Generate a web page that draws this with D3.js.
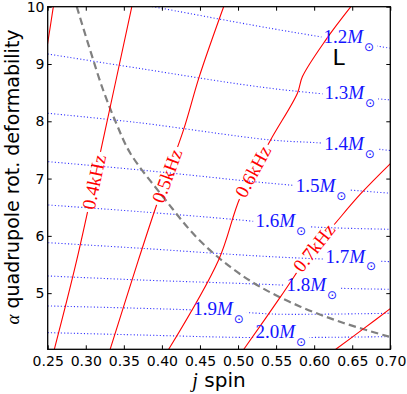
<!DOCTYPE html>
<html><head><meta charset="utf-8">
<script src="https://cdn.jsdelivr.net/npm/d3@7"></script>
<style>body{margin:0;background:#fff}svg{display:block}</style>
</head><body>
<svg id="c" width="407" height="394"></svg>
<script>
// ---------------- data ----------------
const xTicks = [0.25,0.30,0.35,0.40,0.45,0.50,0.55,0.60,0.65,0.70];
const yTicks = [5,6,7,8,9,10];

// frequency contours (red), [j, alpha]
const f03 = [[0.2440,8.90],[0.2500,9.366],[0.2574,10.0]];
const f04 = [[0.2587,4.02],[0.2882,5.58],[0.3241,7.76],[0.3605,10.0]];
const f05 = [[0.3320,4.02],[0.3692,5.58],[0.3938,6.57],[0.4284,7.85],[0.4491,8.78],[0.4811,10.0]];
const f06 = [[0.4089,4.02],[0.4745,5.58],[0.5030,6.68],[0.5426,7.67],[0.5780,8.49],[0.5846,8.78],[0.6153,9.42],[0.6482,10.0]];
const f07 = [[0.5076,4.02],[0.5557,4.934],[0.5997,5.789],[0.6241,6.163],[0.6609,6.731],[0.7008,7.270]];
const f08 = [[0.6284,4.02],[0.6650,4.38],[0.7004,4.734]];
const freqCurves = [f03,f04,f05,f06,f07,f08];
const freqLabels = ["","0.4kHz","0.5kHz","0.6kHz","0.7kHz",""];
const freqLabelJ = [null,0.309,0.4077,0.5201,0.5997,null];
const freqLabelA = [null,6.949,7.046,7.115,5.789,null];

// mass contours (blue dotted), [j, alpha]
const m12 = [[0.3700,10.046],[0.3886,10.0],[0.5424,9.623],[0.7008,9.274]];
const m13 = [[0.25,9.175],[0.3692,8.925],[0.5425,8.576],[0.7008,8.372]];
const m14 = [[0.25,8.14],[0.3692,7.976],[0.5425,7.674],[0.6132,7.616],[0.7008,7.487]];
const m15 = [[0.2508,7.295],[0.3714,7.150],[0.5425,6.918],[0.7008,6.743]];
const m16 = [[0.2508,6.539],[0.3714,6.422],[0.5030,6.277],[0.5912,6.161],[0.7004,6.115]];
const m17 = [[0.2508,5.881],[0.3714,5.784],[0.5425,5.637],[0.7008,5.55]];
const m18 = [[0.25,5.30],[0.3714,5.230],[0.5557,5.143],[0.6346,5.085],[0.7004,5.068]];
const m19 = [[0.25,4.777],[0.3714,4.736],[0.4412,4.707],[0.5123,4.66],[0.5557,4.632],[0.7008,4.649]];
const m20 = [[0.25,4.311],[0.3714,4.270],[0.5201,4.225],[0.6987,4.241]];
const massCurves = [m12,m13,m14,m15,m16,m17,m18,m19,m20];
const massLabels = ["1.2","1.3","1.4","1.5","1.6","1.7","1.8","1.9","2.0"];
const massLabelJ = [0.6122,0.6136,0.6132,0.5758,0.5228,0.6149,0.5636,0.4412,0.5228];
const massLabelA = [9.471,8.494,7.604,6.871,6.260,5.640,5.143,4.724,4.330];

// gray dashed curve
const dashCurve = [[0.2882,10.0],[0.3057,9.244],[0.3228,8.546],[0.3399,7.970],[0.3583,7.447],
  [0.4017,6.679],[0.4464,5.963],[0.4899,5.457],[0.5294,5.108],[0.5820,4.764],[0.6386,4.480],[0.6982,4.241]];

const cornerText = "L";
const cornerJ = 0.624, cornerA = 8.98;

// ---------------- drawing ----------------
const svg = d3.select("#c");
const X0=47.7, X1=390.3, Y0=6.7, Y1=349.3;
const x = d3.scaleLinear().domain([0.25,0.70]).range([X0,X1]);
const y = d3.scaleLinear().domain([4.02,10]).range([Y1,Y0]);
const line = d3.line().x(d=>x(d[0])).y(d=>y(d[1])).curve(d3.curveCatmullRom.alpha(0.5));

const defs = svg.append("defs");
defs.append("clipPath").attr("id","plotclip").append("rect")
  .attr("x",X0).attr("y",Y0).attr("width",X1-X0).attr("height",Y1-Y0);

const plot = svg.append("g").attr("clip-path","url(#plotclip)");
const labelLayer = svg.append("g");

function makeMask(id){
  const m = defs.append("mask").attr("id",id).attr("maskUnits","userSpaceOnUse")
    .attr("x",0).attr("y",0).attr("width",407).attr("height",394);
  m.append("rect").attr("x",0).attr("y",0).attr("width",407).attr("height",394).attr("fill","#fff");
  return m;
}
function nearestLength(node, px, py){
  const total = node.getTotalLength();
  let best=0, bd=Infinity;
  for(let L=0; L<=total; L+=0.5){
    const p=node.getPointAtLength(L);
    const d=(p.x-px)**2+(p.y-py)**2;
    if(d<bd){bd=d;best=L;}
  }
  return best;
}

// blue dotted mass lines
massCurves.forEach((c,i)=>{
  const id = "mm"+i;
  const mask = makeMask(id);
  plot.append("path").attr("d",line(c)).attr("fill","none")
    .attr("stroke","#2f2fff").attr("stroke-width",1.1).attr("stroke-dasharray","1.1,2.2")
    .attr("mask",`url(#${id})`);
  const t = labelLayer.append("text")
    .attr("x",x(massLabelJ[i])).attr("y",y(massLabelA[i])+6.4)
    .attr("font-family","'Liberation Serif', 'DejaVu Serif', serif").attr("font-size",19)
    .attr("fill","#1414ff");
  t.append("tspan").text(massLabels[i]);
  t.append("tspan").attr("font-style","italic").text("M");
  t.append("tspan").attr("font-family","'DejaVu Sans'").attr("font-size",12).attr("dy",7.6).attr("dx",1).text("\u2299");
  const bb = t.node().getBBox();
  mask.append("rect").attr("x",bb.x-2).attr("y",bb.y).attr("width",bb.width+5).attr("height",bb.height).attr("fill","#000");
});

// gray dashed
plot.append("path").attr("d",line(dashCurve)).attr("fill","none")
  .attr("stroke","#808080").attr("stroke-width",2.2).attr("stroke-dasharray","7.4,4.2");

// red frequency lines
freqCurves.forEach((c,i)=>{
  const id = "fm"+i;
  const mask = makeMask(id);
  const p = plot.append("path").attr("d",line(c)).attr("fill","none")
    .attr("stroke","red").attr("stroke-width",1.1).attr("mask",`url(#${id})`);
  if(!freqLabels[i]) return;
  const node = p.node();
  const L = nearestLength(node, x(freqLabelJ[i]), y(freqLabelA[i]));
  const c0 = node.getPointAtLength(L);
  const a = node.getPointAtLength(Math.max(0,L-18)), b = node.getPointAtLength(L+18);
  let ang = Math.atan2(b.y-a.y, b.x-a.x)*180/Math.PI;
  if(ang>90) ang-=180; if(ang<-90) ang+=180;
  const t = labelLayer.append("text")
    .attr("transform",`translate(${c0.x},${c0.y}) rotate(${ang})`)
    .attr("text-anchor","middle").attr("dy","0.34em")
    .attr("font-family","'Liberation Serif', 'DejaVu Serif', serif").attr("font-size",19)
    .attr("fill","red").text(freqLabels[i]);
  const len = t.node().getComputedTextLength();
  mask.append("rect").attr("x",-len/2-3).attr("y",-8).attr("width",len+6).attr("height",16)
    .attr("transform",`translate(${c0.x},${c0.y}) rotate(${ang})`).attr("fill","#000");
});

// corner label
svg.append("text").attr("x",x(cornerJ)).attr("y",y(cornerA))
  .attr("font-family","'DejaVu Sans'").attr("font-size",22).attr("fill","#000").text(cornerText);

// axes
function styleAxis(g){
  g.select(".domain").remove();
  g.selectAll(".tick line").attr("stroke","#000").attr("stroke-width",1);
  g.selectAll("text").attr("font-family","'DejaVu Sans'").attr("font-size",14).attr("fill","#000");
}
svg.append("g").attr("transform",`translate(0,${Y1})`)
  .call(d3.axisBottom(x).tickValues(xTicks).tickFormat(d3.format(".2f")).tickSize(-4).tickPadding(6.8)).call(styleAxis);
svg.append("g").attr("transform",`translate(0,${Y0})`)
  .call(d3.axisTop(x).tickValues(xTicks).tickFormat("").tickSize(-4)).call(styleAxis);
svg.append("g").attr("transform",`translate(${X0},0)`)
  .call(d3.axisLeft(y).tickValues(yTicks).tickFormat(d3.format("d")).tickSize(-4).tickPadding(3.2)).call(styleAxis);
svg.append("g").attr("transform",`translate(${X1},0)`)
  .call(d3.axisRight(y).tickValues(yTicks).tickFormat("").tickSize(-4)).call(styleAxis);

// frame
svg.append("rect").attr("x",X0).attr("y",Y0).attr("width",X1-X0).attr("height",Y1-Y0)
  .attr("fill","none").attr("stroke","#000").attr("stroke-width",1.3);

// axis labels
const xl = svg.append("text").attr("x",(X0+X1)/2).attr("y",386.7).attr("text-anchor","middle")
  .attr("font-family","'DejaVu Sans'").attr("font-size",20).attr("fill","#000");
xl.append("tspan").attr("font-family","'Liberation Serif', 'DejaVu Serif', serif").attr("font-style","italic").text("j");
xl.append("tspan").text(" spin");

const yl = svg.append("text").attr("transform",`translate(18.5,177) rotate(-90)`)
  .attr("text-anchor","middle").attr("font-family","'DejaVu Sans'").attr("font-size",19).attr("fill","#000");
yl.append("tspan").attr("font-family","'Liberation Serif', 'DejaVu Serif', serif").attr("font-style","italic").text("α");
yl.append("tspan").text(" quadrupole rot. deformability");
</script>
</body></html>
